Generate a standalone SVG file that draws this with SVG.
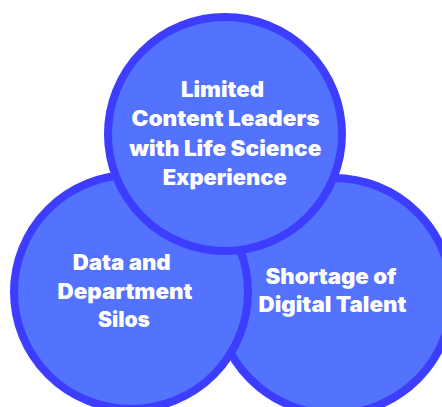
<svg xmlns="http://www.w3.org/2000/svg" width="442" height="407" viewBox="0 0 442 407">
<style>
.c{fill:#5372FE;stroke:#3D3DFF;stroke-width:8}
.t{font-family:Inter,"Noto Sans","DejaVu Sans",sans-serif;font-weight:900;font-size:21px;fill:#FFFFFF;text-anchor:middle}
</style>
<rect width="442" height="407" fill="#FFFFFF"/>
<g id="node-shortage">
<circle class="c" cx="334" cy="296" r="118"/>
<text class="t" x="331" y="283.5" textLength="131" lengthAdjust="spacingAndGlyphs">Shortage of</text>
<text class="t" x="332.5" y="312" textLength="148" lengthAdjust="spacingAndGlyphs">Digital Talent</text>
</g>
<g id="node-silos">
<circle class="c" cx="131" cy="292" r="117"/>
<text class="t" x="121.7" y="270" textLength="98" lengthAdjust="spacingAndGlyphs">Data and</text>
<text class="t" x="125" y="298.5" textLength="135" lengthAdjust="spacingAndGlyphs">Department</text>
<text class="t" x="124" y="327" textLength="52" lengthAdjust="spacingAndGlyphs">Silos</text>
</g>
<g id="node-limited">
<circle class="c" cx="225" cy="134" r="117"/>
<text class="t" x="222.5" y="97" textLength="83" lengthAdjust="spacingAndGlyphs">Limited</text>
<text class="t" x="225.5" y="126" textLength="188" lengthAdjust="spacingAndGlyphs">Content Leaders</text>
<text class="t" x="225.3" y="155.5" textLength="192" lengthAdjust="spacingAndGlyphs">with Life Science</text>
<text class="t" x="224.7" y="184.5" textLength="124" lengthAdjust="spacingAndGlyphs">Experience</text>
</g>
<g id="connectors"/>
</svg>
